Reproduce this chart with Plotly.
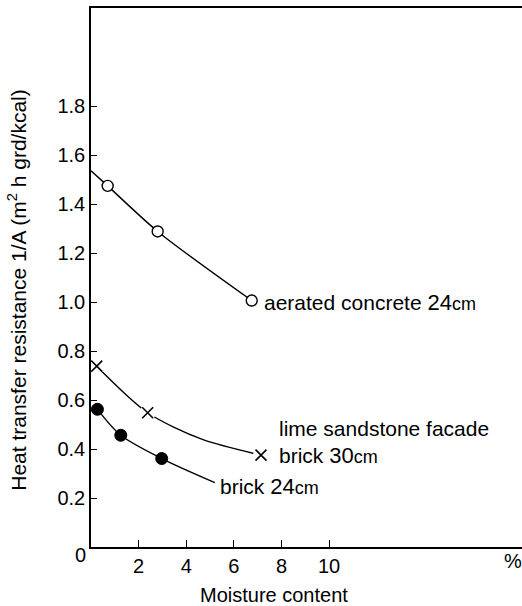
import plotly.graph_objects as go

# ---- data ----
# aerated concrete 24 cm (open circles)
aer_x = [0.70, 2.80, 6.75]
aer_y = [1.474, 1.288, 1.006]
aer_curve_x = [0.0, 0.70, 2.80, 6.75]
aer_curve_y = [1.536, 1.474, 1.288, 1.006]

# lime sandstone facade brick 30 cm (crosses)
lime_x = [0.24, 2.38, 7.14]
lime_y = [0.738, 0.548, 0.375]
lime_curve_x = [0.24, 2.38, 4.65, 7.14]
lime_curve_y = [0.738, 0.548, 0.44, 0.375]

# brick 24 cm (filled circles)
brick_x = [0.27, 1.25, 2.97]
brick_y = [0.562, 0.456, 0.361]
brick_curve_x = [0.27, 1.25, 2.97, 5.2]
brick_curve_y = [0.562, 0.456, 0.361, 0.263]

x_ticks = [2, 4, 6, 8, 10]
x_tick_text = ["2", "4", "6", "8", "10"]
y_ticks = [0.2, 0.4, 0.6, 0.8, 1.0, 1.2, 1.4, 1.6, 1.8]
y_tick_text = ["0.2", "0.4", "0.6", "0.8", "1.0", "1.2", "1.4", "1.6", "1.8"]

FONT = "Liberation Sans, Arial, sans-serif"
LW = 1.4
TICK_SIZE = 20
LABEL_SIZE = 21

fig = go.Figure()

# curves
for cx, cy in [(aer_curve_x, aer_curve_y), (lime_curve_x, lime_curve_y), (brick_curve_x, brick_curve_y)]:
    fig.add_trace(go.Scatter(x=cx, y=cy, mode="lines",
                             line=dict(color="black", width=LW, shape="spline", smoothing=0.8),
                             hoverinfo="skip", showlegend=False))

# white halo behind crosses to create gaps in the line
fig.add_trace(go.Scatter(x=lime_x, y=lime_y, mode="markers",
                         marker=dict(symbol="circle", size=16, color="white", line=dict(width=0)),
                         hoverinfo="skip", showlegend=False))

# markers
fig.add_trace(go.Scatter(x=aer_x, y=aer_y, mode="markers",
                         marker=dict(symbol="circle", size=11, color="white",
                                     line=dict(color="black", width=1.4)),
                         showlegend=False))
fig.add_trace(go.Scatter(x=lime_x, y=lime_y, mode="markers",
                         marker=dict(symbol="x-thin-open", size=11, color="black",
                                     line=dict(color="black", width=1.6)),
                         showlegend=False))
fig.add_trace(go.Scatter(x=brick_x, y=brick_y, mode="markers",
                         marker=dict(symbol="circle", size=12, color="black",
                                     line=dict(color="black", width=1)),
                         showlegend=False))

big = "<span style='font-size:22px'>{}</span><span style='font-size:18px'>cm</span>"
annots = [
    dict(x=7.18, y=1.0, text="aerated concrete " + big.format("24")),
    dict(x=7.81, y=0.428, text="lime sandstone facade<br>brick " + big.format("30")),
    dict(x=5.33, y=0.245, text="brick " + big.format("24")),
]
for a in annots:
    fig.add_annotation(x=a["x"], y=a["y"], text=a["text"], xref="x", yref="y",
                       xanchor="left", yanchor="middle", align="left", showarrow=False,
                       font=dict(family=FONT, size=LABEL_SIZE, color="black"))

# corner "0" and "%" labels
fig.add_annotation(x=-0.0255, y=-0.015, xref="paper", yref="paper", text="0", showarrow=False,
                   xanchor="center", yanchor="middle",
                   font=dict(family=FONT, size=TICK_SIZE, color="black"))
fig.add_annotation(x=0.978, y=-0.026, xref="paper", yref="paper", text="%", showarrow=False,
                   xanchor="center", yanchor="middle",
                   font=dict(family=FONT, size=TICK_SIZE, color="black"))

# axis titles
fig.add_annotation(x=-0.172, y=0.477, xref="paper", yref="paper", textangle=-90,
                   text="Heat transfer resistance 1/A (m<sup>2</sup> h grd/kcal)", showarrow=False,
                   xanchor="center", yanchor="middle",
                   font=dict(family=FONT, size=LABEL_SIZE, color="black"))
fig.add_annotation(x=0.425, y=-0.089, xref="paper", yref="paper",
                   text="Moisture content", showarrow=False,
                   xanchor="center", yanchor="middle",
                   font=dict(family=FONT, size=20, color="black"))

fig.update_xaxes(range=[0, 18.1], showline=True, linecolor="black", linewidth=1.5, mirror=True,
                 showgrid=False, zeroline=False, ticks="inside", ticklen=7, tickwidth=1.2,
                 tickcolor="black", tickvals=x_ticks, ticktext=x_tick_text,
                 tickfont=dict(family=FONT, size=TICK_SIZE, color="black"))
fig.update_yaxes(range=[0, 2.2], showline=True, linecolor="black", linewidth=1.5,
                 showgrid=False, zeroline=False, ticks="inside", ticklen=6, tickwidth=1.2,
                 tickcolor="black", tickvals=y_ticks, ticktext=y_tick_text,
                 tickfont=dict(family=FONT, size=TICK_SIZE, color="black"))

fig.update_layout(width=522, height=606, margin=dict(l=91, r=0, t=8, b=59),
                  plot_bgcolor="white", paper_bgcolor="white", showlegend=False)

fig.write_html("out.html")
